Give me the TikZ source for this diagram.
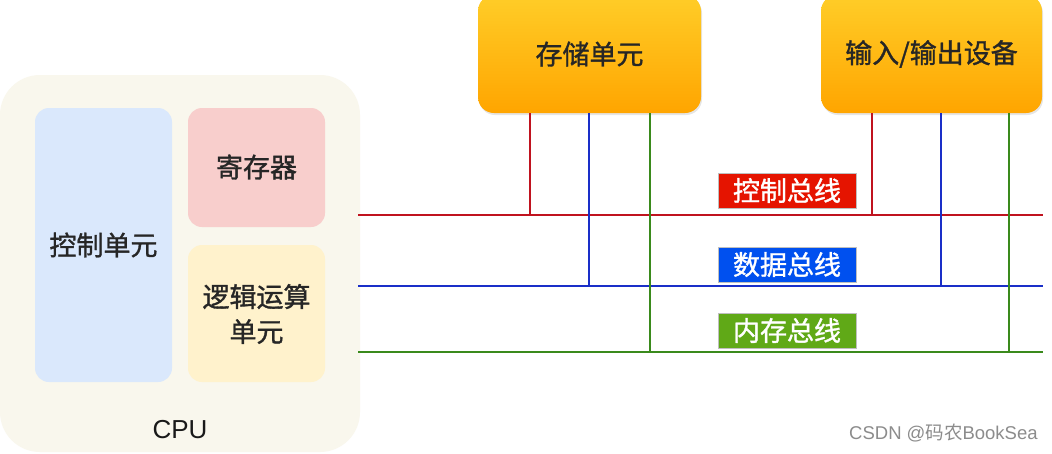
\documentclass[tikz,border=0pt]{standalone}
\usepackage{fontspec}
\setmainfont{Liberation Sans}
\newfontfamily\cjk[FakeBold=1.2]{Noto Sans CJK SC}
\newfontfamily\cjkreg{Noto Sans CJK SC}
\usetikzlibrary{shadows}
\definecolor{cpubg}{HTML}{F9F7ED}
\definecolor{cubg}{HTML}{DAE8FC}
\definecolor{regbg}{HTML}{F8CECC}
\definecolor{alubg}{HTML}{FFF2CC}
\definecolor{orgtop}{HTML}{FFCD28}
\definecolor{orgbot}{HTML}{FFA500}
\definecolor{redln}{HTML}{C0131F}
\definecolor{blueln}{HTML}{1A2FC8}
\definecolor{greenln}{HTML}{3A8A1C}
\definecolor{redlab}{HTML}{E51400}
\definecolor{bluelab}{HTML}{0050EF}
\definecolor{greenlab}{HTML}{60A917}
\begin{document}
\begin{tikzpicture}[x=1pt,y=-1pt,
  txt/.style={font=\cjk\fontsize{27}{35}\selectfont, align=center, text=black!85},
  topbox/.style={rounded corners=16pt, top color=orgtop, bottom color=orgbot, draw=none,
     drop shadow={shadow xshift=1pt, shadow yshift=-2pt, opacity=0.2}},
  buslab/.style={font=\cjk\fontsize{27}{30}\selectfont, text=white, minimum width=138pt,
     minimum height=35pt, inner sep=0pt, draw=black!25, line width=0.6pt},
  bus/.style={line width=2.8pt},
]
\useasboundingbox (0,0) rectangle (1052,453);
\fill[white] (0,0) rectangle (1052,453);
% CPU
\fill[cpubg, rounded corners=40pt] (0,75) rectangle (360,452);
\node[font=\fontsize{26}{30}\selectfont, text=black!90] (cpu) at (180,430) {CPU};
\fill[cubg, rounded corners=14pt] (35,108) rectangle (172,382);
\node[txt] (cu) at (103.5,245) {控制单元};
\fill[regbg, rounded corners=14pt] (188,108) rectangle (325,227);
\node[txt] (reg) at (256.5,167) {寄存器};
\fill[alubg, rounded corners=14pt] (188,245) rectangle (325,382);
\node[txt, text width=130pt] (alu) at (256.5,314) {逻辑运算\\单元};
% top boxes
\node[topbox, minimum width=223pt, minimum height=118pt] (mem) at (589.5,54) {};
\node[txt] at (mem) {存储单元};
\node[topbox, minimum width=221pt, minimum height=118pt] (io) at (931.5,54) {};
\node[txt] at (io) {输入/输出设备};
% buses
\coordinate (rs) at (358,215); \coordinate (re) at (1043,215);
\coordinate (bs) at (358,286); \coordinate (be) at (1043,286);
\coordinate (gs) at (358,352); \coordinate (ge) at (1043,352);
\draw[bus, redln] (rs) -- (re);
\draw[bus, blueln] (bs) -- (be);
\draw[bus, greenln] (gs) -- (ge);
\draw[bus, redln] (530,113) -- (530,215);
\draw[bus, blueln] (589,113) -- (589,286);
\draw[bus, greenln] (650,113) -- (650,352);
\draw[bus, redln] (872,113) -- (872,215);
\draw[bus, blueln] (941,113) -- (941,286);
\draw[bus, greenln] (1009,113) -- (1009,352);
% labels
\node[buslab, fill=redlab] (lc) at (787,190.5) {控制总线};
\node[buslab, fill=bluelab] (ld) at (787,264.5) {数据总线};
\node[buslab, fill=greenlab] (lm) at (787,330.5) {内存总线};
% watermark
\node[font=\fontsize{18.5}{20}\selectfont, text=black!45, anchor=west, inner sep=0pt] (wm) at (849,433) {CSDN @{\cjkreg 码农}BookSea};
\end{tikzpicture}
\end{document}
